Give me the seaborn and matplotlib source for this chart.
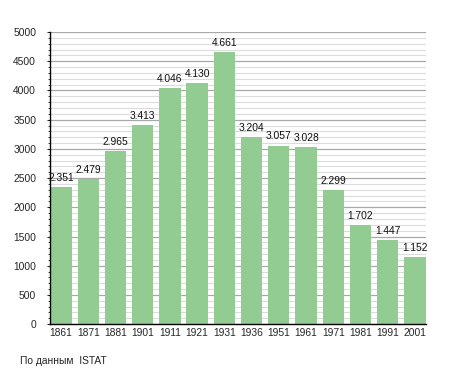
import matplotlib
matplotlib.use("Agg")
import matplotlib.pyplot as plt
import seaborn as sns
import pandas as pd
from matplotlib.ticker import MultipleLocator

years = ["1861", "1871", "1881", "1901", "1911", "1921", "1931", "1936",
         "1951", "1961", "1971", "1981", "1991", "2001"]
population = [2351, 2479, 2965, 3413, 4046, 4130, 4661, 3204,
              3057, 3028, 2299, 1702, 1447, 1152]
value_labels = ["2.351", "2.479", "2.965", "3.413", "4.046", "4.130", "4.661",
                "3.204", "3.057", "3.028", "2.299", "1.702", "1.447", "1.152"]
y_ticks = [0, 500, 1000, 1500, 2000, 2500, 3000, 3500, 4000, 4500, 5000]

sns.set_style("white")
plt.rcParams['font.family'] = ['Liberation Sans', 'DejaVu Sans']

df = pd.DataFrame({"year": years, "pop": population})

fig = plt.figure(figsize=(4.55, 3.73), dpi=100)
ax = fig.add_axes([0.110, 0.131, 0.826, 0.783])

ax.set_ylim(0, 5000)
ax.yaxis.set_minor_locator(MultipleLocator(100))
ax.set_yticks(y_ticks)
ax.grid(which="minor", axis="y", color="#dcdcdc", linewidth=0.8)
ax.grid(which="major", axis="y", color="#a8a8a8", linewidth=0.9)
ax.set_axisbelow(True)

sns.barplot(data=df, x="year", y="pop", ax=ax, color="#93cc93",
            saturation=1, width=0.78, edgecolor="none")

ax.set_xlim(-0.4, 13.4)
for i, (v, lab) in enumerate(zip(population, value_labels)):
    ax.text(i, v + 70, lab, ha="center", va="bottom", fontsize=7.4, color="#111111")

ax.set_xlabel("")
ax.set_ylabel("")
for s in ["top", "right"]:
    ax.spines[s].set_visible(False)
ax.spines["left"].set_color("black")
ax.spines["bottom"].set_color("black")
ax.spines["left"].set_linewidth(1)
ax.spines["bottom"].set_linewidth(1)
ax.tick_params(axis="y", which="major", length=2.5, width=0.8, labelsize=7.4,
               direction="out", left=True, pad=7.5)
ax.tick_params(axis="y", which="minor", length=1.5, width=0.6, direction="out", left=True)
ax.tick_params(axis="x", length=0, labelsize=7.4, pad=3)

fig.text(20 / 455, 1 - 361 / 373, "По данным  ISTAT", fontsize=7.4, va="center", ha="left")

fig.savefig("out.png", dpi=100)
